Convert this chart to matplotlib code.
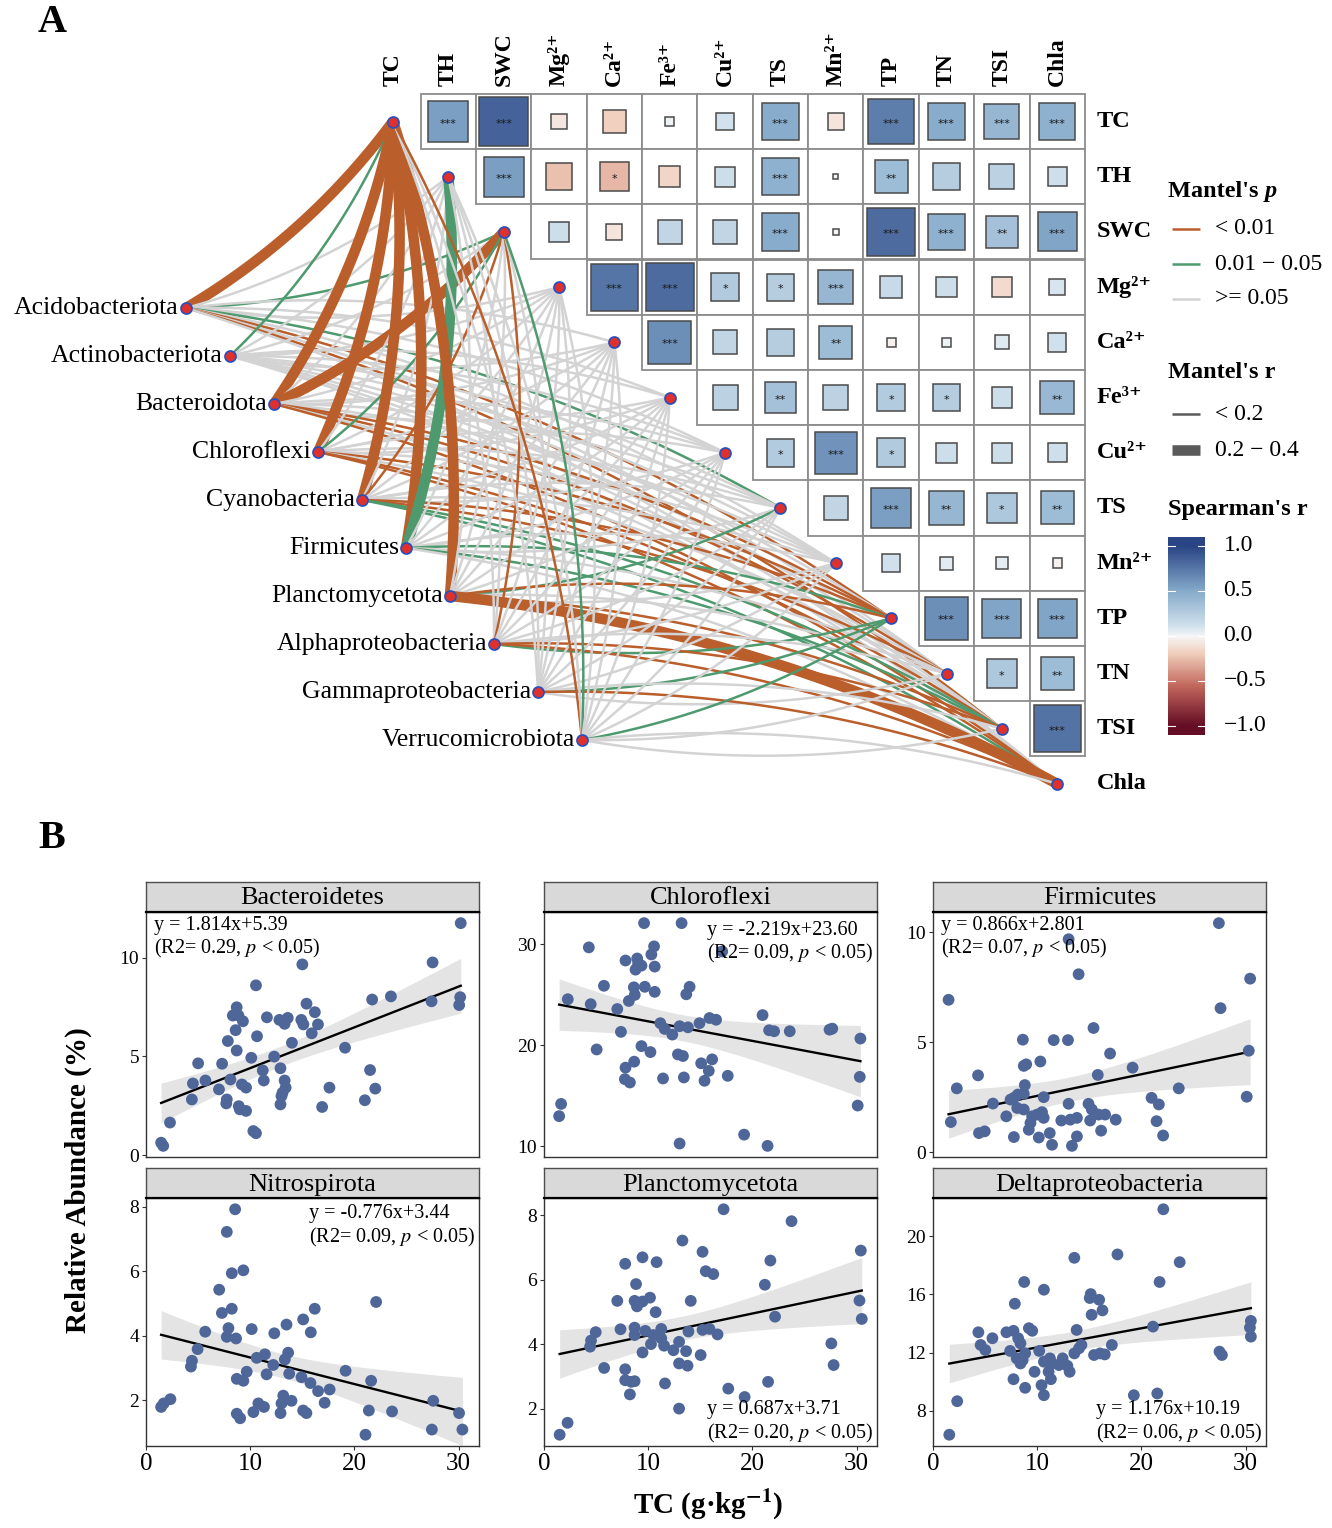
import numpy as np
import matplotlib
matplotlib.use("Agg")
import matplotlib.pyplot as plt
from matplotlib.patches import Rectangle
from matplotlib.colors import LinearSegmentedColormap, Normalize

plt.rcParams['font.family'] = ['Liberation Serif', 'DejaVu Serif']
plt.rcParams['mathtext.fontset'] = 'stix'

# ---------------- DATA : panel A ----------------
env_labels = ['TC', 'TH', 'SWC', 'Mg\u00b2\u207a', 'Ca\u00b2\u207a', 'Fe\u00b3\u207a',
              'Cu\u00b2\u207a', 'TS', 'Mn\u00b2\u207a', 'TP', 'TN', 'TSI', 'Chla']
taxa = ['Acidobacteriota', 'Actinobacteriota', 'Bacteroidota', 'Chloroflexi', 'Cyanobacteria',
        'Firmicutes', 'Planctomycetota', 'Alphaproteobacteria', 'Gammaproteobacteria',
        'Verrucomicrobiota']

# Spearman r, upper triangle (row i holds columns i+1 .. 12)
spearman_r = [
    [0.56, 0.85, -0.08, -0.18, 0.03, 0.11, 0.49, -0.09, 0.72, 0.49, 0.42, 0.46],
    [0.56, -0.25, -0.28, -0.16, 0.14, 0.46, 0.01, 0.38, 0.25, 0.22, 0.13],
    [0.14, -0.09, 0.20, 0.20, 0.49, 0.015, 0.81, 0.46, 0.34, 0.53],
    [0.76, 0.81, 0.28, 0.25, 0.42, 0.16, 0.14, -0.14, 0.09],
    [0.64, 0.20, 0.25, 0.38, -0.03, 0.03, 0.07, 0.12],
    [0.22, 0.34, 0.22, 0.27, 0.25, 0.14, 0.40],
    [0.27, 0.61, 0.28, 0.14, 0.14, 0.13],
    [0.20, 0.56, 0.42, 0.30, 0.38],
    [0.12, 0.06, 0.05, -0.03],
    [0.64, 0.53, 0.53],
    [0.30, 0.38],
    [0.77],
    [],
]
spearman_sig = [
    ['***', '***', '', '', '', '', '***', '', '***', '***', '***', '***'],
    ['***', '', '*', '', '', '***', '', '**', '', '', ''],
    ['', '', '', '', '***', '', '***', '***', '**', '***'],
    ['***', '***', '*', '*', '***', '', '', '', ''],
    ['***', '', '', '**', '', '', '', ''],
    ['', '**', '', '*', '*', '', '**'],
    ['*', '***', '*', '', '', ''],
    ['', '***', '**', '*', '**'],
    ['', '', '', ''],
    ['***', '***', '***'],
    ['*', '**'],
    ['***'],
    [],
]
# Mantel p class per taxon x env: 0 = <0.01, 1 = 0.01-0.05, 2 = >=0.05
mantel_p = [
    [0, 2, 1, 2, 2, 2, 2, 1, 2, 0, 2, 0, 2],
    [1, 2, 2, 2, 2, 2, 2, 2, 2, 2, 2, 2, 2],
    [0, 2, 0, 2, 2, 2, 2, 2, 2, 0, 0, 2, 0],
    [0, 2, 1, 2, 2, 2, 2, 2, 2, 0, 2, 0, 0],
    [0, 2, 0, 2, 2, 2, 2, 2, 2, 0, 0, 1, 1],
    [0, 1, 2, 2, 2, 2, 2, 2, 2, 1, 2, 1, 2],
    [0, 2, 2, 2, 2, 2, 2, 1, 2, 0, 2, 0, 0],
    [2, 2, 0, 2, 2, 2, 2, 2, 2, 1, 2, 0, 0],
    [2, 2, 2, 2, 2, 2, 2, 2, 2, 1, 2, 2, 0],
    [0, 2, 1, 2, 2, 2, 2, 2, 2, 1, 2, 2, 2],
]
# Mantel r class: 0 = <0.2, 1 = 0.2-0.4
mantel_r = [
    [1, 0, 0, 0, 0, 0, 0, 0, 0, 0, 0, 0, 0],
    [0, 0, 0, 0, 0, 0, 0, 0, 0, 0, 0, 0, 0],
    [1, 0, 1, 0, 0, 0, 0, 0, 0, 0, 0, 0, 0],
    [1, 0, 0, 0, 0, 0, 0, 0, 0, 0, 0, 0, 0],
    [1, 0, 0, 0, 0, 0, 0, 0, 0, 0, 0, 0, 0],
    [1, 1, 0, 0, 0, 0, 0, 0, 0, 0, 0, 0, 0],
    [1, 0, 0, 0, 0, 0, 0, 0, 0, 0, 0, 0, 1],
    [0, 0, 0, 0, 0, 0, 0, 0, 0, 0, 0, 0, 0],
    [0, 0, 0, 0, 0, 0, 0, 0, 0, 0, 0, 0, 0],
    [0, 0, 0, 0, 0, 0, 0, 0, 0, 0, 0, 0, 0],
]
p_labels = ['< 0.01', '0.01 \u2212 0.05', '>= 0.05']
r_labels = ['< 0.2', '0.2 \u2212 0.4']
cbar_ticks = [1.0, 0.5, 0.0, -0.5, -1.0]

# ---------------- DATA : panel B ----------------
bact_tc = [30.2, 27.5, 15.0, 10.55, 21.7, 23.5, 27.4, 30.15, 30.05, 8.7, 8.33, 8.87, 9.3, 8.6,
           11.6, 12.8, 13.6, 13.3, 15.4, 14.9, 15.1, 16.2, 16.5, 15.9, 10.65, 14.0, 7.85, 8.7, 19.1,
           10.1, 12.3, 5.0, 7.3, 11.2, 12.9, 11.3, 8.1, 5.7, 4.5, 13.3, 13.4, 13.0, 13.1, 9.2, 9.6,
           7.0, 4.4, 7.75, 7.7, 8.9, 9.0, 9.6, 12.9, 17.6, 21.5, 22.0, 21.0, 16.9, 2.3, 10.3, 10.55,
           1.45, 1.65]
bact_ra = [11.75, 9.76, 9.66, 8.6, 7.88, 8.04, 7.79, 8.0, 7.6, 7.49, 7.07, 7.07, 6.78, 6.33,
           6.98, 6.85, 6.95, 6.65, 7.67, 6.85, 6.62, 7.24, 6.62, 6.17, 6.02, 5.69, 5.78, 5.3, 5.44,
           4.93, 4.99, 4.65, 4.63, 4.29, 4.4, 3.78, 3.83, 3.78, 3.63, 3.78, 3.42, 2.99, 3.16, 3.58,
           3.42, 3.33, 2.82, 2.82, 2.62, 2.48, 2.32, 2.24, 2.57, 3.42, 4.31, 3.37, 2.78, 2.44, 1.65,
           1.22, 1.11, 0.63, 0.47]
chlo_tc = [9.6, 13.2, 4.3, 10.56, 10.3, 7.82, 8.94, 9.03, 9.35, 8.78, 10.62, 17.1, 5.75, 8.62,
           9.67, 10.62, 8.71, 8.14, 13.97, 13.65, 2.28, 4.48, 7.03, 20.97, 11.16, 11.58, 12.31,
           13.01, 13.81, 14.92, 15.88, 16.51, 21.6, 22.08, 23.58, 27.4, 27.66, 30.36, 7.38, 5.05,
           9.35, 10.21, 12.85, 13.33, 8.65, 7.82, 15.08, 16.13, 15.81, 15.4, 7.76, 8.24, 11.42,
           13.42, 17.63, 30.3, 1.64, 1.45, 30.1, 19.2, 13.01, 21.45]
chlo_ra = [32.1, 32.1, 29.7, 29.8, 29.0, 28.4, 28.6, 28.1, 27.9, 27.5, 27.8, 29.3, 25.9, 25.75,
           25.8, 25.3, 25.0, 24.4, 25.8, 25.06, 24.57, 24.08, 23.6, 23.0, 22.2, 21.63, 21.07, 21.9,
           21.79, 22.2, 22.71, 22.54, 21.5, 21.4, 21.4, 21.56, 21.66, 20.68, 21.34, 19.6, 19.93,
           19.34, 19.11, 18.95, 18.39, 17.8, 18.23, 18.62, 17.48, 16.5, 16.66, 16.33, 16.73, 16.83,
           16.99, 16.89, 14.21, 13.0, 14.05, 11.17, 10.29, 10.06]
firm_tc = [27.43, 13.01, 13.97, 1.49, 30.43, 27.59, 15.4, 8.62, 11.58, 12.95, 16.99, 10.3, 8.71,
           8.94, 4.32, 15.81, 19.15, 30.3, 2.28, 8.81, 8.14, 7.44, 8.71, 7.76, 23.58, 10.62, 5.75,
           20.97, 21.67, 30.1, 8.08, 8.71, 13.01, 14.92, 15.24, 15.88, 16.51, 7.03, 9.51, 9.99,
           10.46, 10.62, 9.35, 9.19, 10.15, 1.71, 12.31, 13.17, 13.81, 15.08, 17.53, 21.45, 4.41,
           4.96, 7.76, 11.2, 11.42, 13.81, 13.33, 16.13, 22.08]
firm_ra = [10.41, 9.68, 8.09, 6.93, 7.89, 6.55, 5.65, 5.12, 5.10, 5.10, 4.49, 4.13, 3.93, 4.0,
           3.5, 3.52, 3.85, 4.62, 2.91, 3.06, 2.63, 2.4, 2.66, 2.48, 2.91, 2.51, 2.22, 2.48, 2.18,
           2.53, 2.02, 1.95, 2.21, 2.21, 1.95, 1.72, 1.72, 1.64, 1.64, 1.72, 1.83, 1.57, 1.34, 1.03,
           0.68, 1.38, 1.45, 1.49, 1.57, 1.45, 1.49, 1.42, 0.88, 0.96, 0.70, 0.88, 0.35, 0.73, 0.3,
           0.99, 0.77]
nitr_tc = [8.55, 7.75, 8.23, 9.34, 7.02, 7.28, 8.23, 7.91, 7.75, 8.64, 5.68, 10.14, 4.95, 4.41,
           4.31, 1.45, 1.70, 2.34, 10.62, 11.41, 11.57, 8.71, 9.66, 9.34, 8.71, 9.03, 12.31, 13.48,
           13.64, 13.32, 12.21, 13.74, 13.17, 13.0, 12.91, 10.3, 10.78, 11.32, 13.96, 15.08, 15.81,
           16.19, 14.92, 15.78, 16.51, 15.08, 15.39, 17.14, 17.62, 19.15, 22.08, 21.6, 21.38,
           21.06, 23.61, 27.56, 27.43, 30.04, 30.36]
nitr_ra = [7.92, 7.22, 5.94, 6.03, 5.43, 4.71, 4.84, 4.24, 3.97, 3.92, 4.13, 4.21, 3.59, 3.23,
           3.05, 1.8, 1.91, 2.04, 3.32, 3.43, 2.81, 2.67, 2.89, 2.61, 1.59, 1.45, 4.08, 4.35, 3.48,
           3.27, 3.10, 2.83, 2.15, 1.91, 1.61, 1.64, 1.91, 1.80, 1.99, 4.51, 4.11, 4.84, 2.72, 2.54,
           2.29, 1.69, 1.61, 1.93, 2.34, 2.92, 5.05, 2.61, 1.69, 0.94, 1.66, 1.99, 1.10, 1.61, 1.10]
plan_tc = [17.23, 23.75, 13.28, 15.21, 30.4, 7.79, 9.45, 10.80, 21.72, 15.52, 16.24, 8.83, 21.19,
           7.03, 8.69, 8.92, 9.45, 10.17, 10.71, 14.08, 30.27, 22.17, 30.49, 4.96, 4.51, 4.42,
           7.34, 8.69, 9.72, 11.25, 8.69, 10.49, 10.26, 11.25, 11.52, 12.42, 12.96, 13.63, 13.86,
           15.21, 15.88, 16.65, 9.45, 15.03, 12.96, 13.77, 5.77, 7.79, 7.79, 8.38, 8.69, 8.24,
           11.61, 17.68, 19.25, 21.5, 27.57, 27.79, 12.96, 2.26, 1.5]
plan_ra = [8.18, 7.81, 7.21, 6.86, 6.9, 6.49, 6.69, 6.54, 6.59, 6.26, 6.17, 5.86, 5.84, 5.34, 5.34,
           5.17, 5.32, 5.44, 4.99, 5.34, 5.35, 4.85, 4.78, 4.37, 4.11, 3.92, 4.46, 4.51, 4.41, 4.47,
           4.28, 4.28, 4.0, 4.18, 3.95, 3.81, 4.07, 3.78, 4.39, 4.44, 4.47, 4.3, 3.74, 3.66, 3.4,
           3.33, 3.26, 3.22, 2.88, 2.83, 2.85, 2.44, 2.78, 2.62, 2.36, 2.83, 4.02, 3.35, 2.0, 1.56,
           1.19]
delt_tc = [22.1, 17.7, 13.56, 23.67, 8.75, 10.64, 21.74, 15.13, 15.04, 15.94, 16.26, 15.22, 7.85,
           4.35, 4.57, 5.02, 5.7, 7.04, 7.72, 7.4, 8.17, 8.39, 9.2, 9.52, 8.84, 8.03, 8.39, 8.6,
           10.19, 10.64, 11.22, 11.45, 11.09, 9.74, 12.08, 12.44, 12.89, 13.11, 13.56, 14.01, 14.24,
           13.78, 15.45, 16.03, 16.48, 17.16, 7.72, 8.84, 10.41, 10.64, 11.31, 19.27, 21.52, 21.11,
           27.49, 27.72, 30.5, 30.41, 30.5, 2.32, 1.56]
delt_ra = [21.84, 18.74, 18.51, 18.21, 16.85, 16.32, 16.85, 16.02, 15.75, 15.63, 14.9, 14.6, 15.36,
           13.4, 12.53, 12.18, 12.99, 13.4, 13.5, 12.12, 12.99, 12.64, 13.68, 13.5, 11.96, 11.61,
           11.26, 11.49, 12.12, 11.38, 11.61, 11.26, 10.69, 10.69, 11.15, 11.61, 11.1, 10.69, 11.95,
           12.3, 12.53, 13.56, 11.84, 11.95, 11.88, 12.53, 10.18, 9.59, 9.77, 9.08, 10.18, 9.08, 9.2,
           13.79, 12.07, 11.84, 14.18, 13.72, 13.1, 8.67, 6.37]

panel_titles = ['Bacteroidetes', 'Chloroflexi', 'Firmicutes', 'Nitrospirota', 'Planctomycetota',
                'Deltaproteobacteria']
panel_eq = ['y = 1.814x+5.39', 'y = -2.219x+23.60', 'y = 0.866x+2.801', 'y = -0.776x+3.44',
            'y = 0.687x+3.71', 'y = 1.176x+10.19']
panel_r2 = ['0.29', '0.09', '0.07', '0.09', '0.20', '0.06']
panel_yticks = [[0, 5, 10], [10, 20, 30], [0, 5, 10], [2, 4, 6, 8], [2, 4, 6, 8], [8, 12, 16, 20]]
x_ticks = [0, 10, 20, 30]
panel_x = [bact_tc, chlo_tc, firm_tc, nitr_tc, plan_tc, delt_tc]
panel_y = [bact_ra, chlo_ra, firm_ra, nitr_ra, plan_ra, delt_ra]
# annotation placement (layout)
panel_ann = [('left', 'top'), ('right', 'top'), ('left', 'top'),
             ('right', 'top'), ('right', 'bottom'), ('right', 'bottom')]

# ---------------- FIGURE ----------------
W, H = 1332, 1528
fig = plt.figure(figsize=(W / 100, H / 100), dpi=100)


def px_axes(x0, y0, x1, y1):
    return fig.add_axes([x0 / W, 1 - y1 / H, (x1 - x0) / W, (y1 - y0) / H])


axA = fig.add_axes([0, 0, 1, 1])
axA.set_xlim(0, W)
axA.set_ylim(H, 0)
axA.axis('off')

cmap = LinearSegmentedColormap.from_list('spear', [
    (0.0, '#650D25'), (0.22, '#C2675C'), (0.4, '#F0CDBB'), (0.5, '#F7F7F7'),
    (0.55, '#D4E3EE'), (0.75, '#86ABCB'), (1.0, '#2A4585')])
norm = Normalize(-1, 1)

cell = 55.35
ex0, ey0 = 393.0, 121.5
env_xy = [(ex0 + i * cell, ey0 + i * 55.2) for i in range(len(env_labels))]
tax_xy = [(186 + 44.0 * k, 308 + 48.0 * k) for k in range(len(taxa))]

p_colors = ['#BA5E2C', '#4E9A6E', '#D3D3D3']
r_widths = [1.8, 7.6]


def curve(p0, p1, k=0.10):
    dx, dy = p1[0] - p0[0], p1[1] - p0[1]
    if p1[1] < p0[1]:
        perp = (-dy, dx)
    else:
        perp = (dy, -dx)
    cx = (p0[0] + p1[0]) / 2 + k * perp[0]
    cy = (p0[1] + p1[1]) / 2 + k * perp[1]
    t = np.linspace(0, 1, 80)
    xs = (1 - t) ** 2 * p0[0] + 2 * (1 - t) * t * cx + t ** 2 * p1[0]
    ys = (1 - t) ** 2 * p0[1] + 2 * (1 - t) * t * cy + t ** 2 * p1[1]
    return xs, ys


# links: draw in data order (taxon by env)
for k in range(len(taxa)):
    for e in range(len(env_labels)):
        xs, ys = curve(tax_xy[k], env_xy[e])
        pc = mantel_p[k][e]
        axA.plot(xs, ys, color=p_colors[pc], lw=r_widths[mantel_r[k][e]],
                 solid_capstyle='butt', zorder=2)

# heatmap
for i in range(len(env_labels)):
    for jj, j in enumerate(range(i + 1, len(env_labels))):
        cx, cy = ex0 + j * cell, ey0 + i * 55.2
        axA.add_patch(Rectangle((cx - cell / 2, cy - 55.2 / 2), cell, 55.2, fc='white',
                                ec='#8C8C8C', lw=1.3, zorder=5))
        r = spearman_r[i][jj]
        side = cell * 0.97 * np.sqrt(abs(r))
        axA.add_patch(Rectangle((cx - side / 2, cy - side / 2), side, side,
                                fc=cmap(norm(r)), ec='#4A4A4A', lw=1.1, zorder=6))
        if spearman_sig[i][jj]:
            axA.text(cx, cy + 2, spearman_sig[i][jj], ha='center', va='center',
                     fontsize=8, color='#1A1A1A', zorder=7, family='DejaVu Sans')

# nodes
axA.scatter([p[0] for p in env_xy], [p[1] for p in env_xy], s=62, c='#E0302B',
            edgecolors='#2F4FB8', linewidths=1.3, zorder=8)
axA.scatter([p[0] for p in tax_xy], [p[1] for p in tax_xy], s=62, c='#E0302B',
            edgecolors='#2F4FB8', linewidths=1.3, zorder=8)

# labels
for k, name in enumerate(taxa):
    axA.text(tax_xy[k][0] - 7, tax_xy[k][1], name, ha='right', va='center', fontsize=18.5,
             zorder=9)
for i, lab in enumerate(env_labels):
    axA.text(ex0 + i * cell, 86, lab, rotation=90, ha='center', va='bottom',
             fontsize=17, fontweight='bold')
    axA.text(1097, ey0 + i * 55.2, lab, ha='left', va='center', fontsize=17.5,
             fontweight='bold')

# legend
t1 = axA.text(1168, 197, "Mantel's ", ha='left', va='baseline', fontsize=17.5,
              fontweight='bold')
axA.annotate('p', xy=(1, 0), xycoords=t1, ha='left', va='bottom', fontsize=17.5,
             fontweight='bold', fontstyle='italic')
for n, lab in enumerate(p_labels):
    yy = 229 + n * 35
    axA.plot([1172, 1200], [yy, yy], color=p_colors[n], lw=1.8, solid_capstyle='butt')
    axA.text(1215, yy, lab, ha='left', va='center', fontsize=17)
axA.text(1168, 372, "Mantel's r", ha='left', va='center', fontsize=17.5, fontweight='bold')
for n, lab in enumerate(r_labels):
    yy = 414 + n * 36
    axA.plot([1172, 1200], [yy, yy], color='#5A5A5A', lw=r_widths[n], solid_capstyle='butt')
    axA.text(1215, yy, lab, ha='left', va='center', fontsize=17)
axA.text(1168, 510, "Spearman's r", ha='left', va='center', fontsize=17.5, fontweight='bold')

cax = px_axes(1168, 537, 1205, 735)
grad = np.linspace(-1.1, 1.1, 300)[:, None]
cax.imshow(grad, cmap=cmap, norm=norm, aspect='auto', extent=[0, 1, -1.1, 1.1],
           origin='lower')
cax.set_xlim(0, 1)
cax.set_ylim(-1.1, 1.1)
cax.axis('off')
for tv in cbar_ticks:
    cax.plot([0, 0.2], [tv, tv], color='white', lw=0.8)
    cax.plot([0.8, 1], [tv, tv], color='white', lw=0.8)
    cax.text(1.5, tv, ('%.1f' % tv).replace('-', '\u2212'), transform=cax.transData,
             ha='left', va='center', fontsize=17, clip_on=False)

fig.text(52 / W, 1 - 22 / H, 'A', fontsize=29, fontweight='bold', ha='center', va='center')
fig.text(52 / W, 1 - 838 / H, 'B', fontsize=29, fontweight='bold', ha='center', va='center')

# ---------------- panel B ----------------
colL = [146, 544, 933]
colR = [479, 877, 1266]
rowT = [912, 1198]
rowB = [1157, 1446]
allx = np.concatenate([np.asarray(v) for v in panel_x])
xpad = 0.05 * (allx.max() - allx.min())
xlim = (allx.min() - xpad, allx.max() + xpad)

for p in range(6):
    r_, c_ = divmod(p, 3)
    ax = px_axes(colL[c_], rowT[r_], colR[c_], rowB[r_])
    x = np.asarray(panel_x[p], float)
    y = np.asarray(panel_y[p], float)
    n = len(x)
    b, a = np.polyfit(x, y, 1)
    s = np.sqrt(np.sum((y - (a + b * x)) ** 2) / (n - 2))
    sxx = np.sum((x - x.mean()) ** 2)
    xs = np.linspace(x.min(), x.max(), 100)
    se = s * np.sqrt(1 / n + (xs - x.mean()) ** 2 / sxx)
    yfit = a + b * xs
    ax.fill_between(xs, yfit - 2.0 * se, yfit + 2.0 * se, color='#A6A6A6', alpha=0.3, lw=0,
                    zorder=1)
    ax.plot(xs, yfit, color='black', lw=1.7, zorder=2)
    ax.scatter(x, y, s=72, color='#4E6698', edgecolors='none', zorder=3)
    ypad = 0.05 * (y.max() - y.min())
    ax.set_ylim(y.min() - ypad, y.max() + ypad)
    ax.set_xlim(*xlim)
    ax.set_yticks(panel_yticks[p])
    ax.set_xticks(x_ticks)
    ax.tick_params(axis='y', labelsize=14, length=3, color='#333333', width=0.8, pad=2)
    if r_ == 0:
        ax.tick_params(axis='x', bottom=False, labelbottom=False)
    else:
        ax.tick_params(axis='x', labelsize=18, length=3, color='#333333', width=0.8, pad=2)
    for sp in ax.spines.values():
        sp.set_color('#333333')
        sp.set_linewidth(1.0)
    ha, va = panel_ann[p]
    txt = panel_eq[p] + '\n(R2= ' + panel_r2[p] + ', $\\mathit{p}$ < 0.05)'
    xa = 0.025 if ha == 'left' else 0.99
    ya = 0.985 if va == 'top' else 0.005
    if p == 1:
        ya = 0.965
    if p == 3:
        ya = 0.975
    ax.text(xa, ya, txt, transform=ax.transAxes, ha=ha, va=va, multialignment='left',
            fontsize=14.5, linespacing=1.15, zorder=4)
    # strip
    sax = px_axes(colL[c_], rowT[r_] - 30, colR[c_], rowT[r_])
    sax.set_facecolor('#D9D9D9')
    sax.set_xticks([])
    sax.set_yticks([])
    for sp in sax.spines.values():
        sp.set_color('#4D4D4D')
        sp.set_linewidth(1.0)
    sax.spines['bottom'].set_color('black')
    sax.spines['bottom'].set_linewidth(1.6)
    sax.text(0.5, 0.45, panel_titles[p], ha='center', va='center', fontsize=19,
             transform=sax.transAxes)

fig.text(78 / W, 1 - 1180 / H, 'Relative Abundance (%)', rotation=90, fontsize=21,
         fontweight='bold', ha='center', va='center')
fig.text(708 / W, 1 - 1505 / H, 'TC (g\u00b7kg$^{\\mathbf{-1}}$)', fontsize=21,
         fontweight='bold', ha='center', va='center')

fig.savefig('out.png', dpi=100)
